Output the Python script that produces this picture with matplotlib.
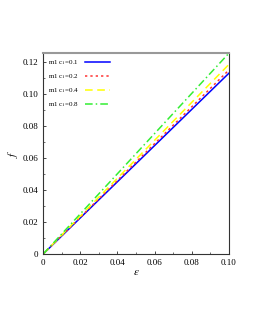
import matplotlib
matplotlib.use('Agg')
from matplotlib import pyplot as plt
from matplotlib.ticker import AutoMinorLocator
import numpy as np

plt.rcParams['font.family'] = ['Liberation Serif', 'DejaVu Serif']
plt.rcParams['mathtext.fontset'] = 'stix'

eps = [0.0, 0.10]
labels = ['m1 c$_1$=0.1', 'm1 c$_1$=0.2', 'm1 c$_1$=0.4', 'm1 c$_1$=0.8']
f_values = [[0.0, 0.1130], [0.0, 0.1150], [0.0, 0.1185], [0.0, 0.1255]]
colors = ['#0000ff', '#ff3333', '#ffff00', '#33ee33']
styles = ['-', (0, (1.5, 2)), (0, (5, 3)), (0, (5, 2, 1, 2))]
xticks = [0, 0.02, 0.04, 0.06, 0.08, 0.10]
xticklabels = ['0', '0.02', '0.04', '0.06', '0.08', '0.10']
yticks = [0, 0.02, 0.04, 0.06, 0.08, 0.10, 0.12]
yticklabels = ['0', '0.02', '0.04', '0.06', '0.08', '0.10', '0.12']

fig = plt.figure(figsize=(2.55, 3.30), dpi=100)
ax = fig.add_axes([0.169, 0.230, 0.729, 0.609])

for y, c, ls, lab in zip(f_values, colors, styles, labels):
    ax.plot(eps, y, color=c, linestyle=ls, linewidth=1.1, label=lab)

ax.set_xlim(0, 0.10)
ax.set_ylim(0, 0.1255)
ax.set_xticks(xticks)
ax.set_xticklabels(xticklabels)
ax.set_yticks(yticks)
ax.set_yticklabels(yticklabels)
ax.xaxis.set_minor_locator(AutoMinorLocator(2))
ax.yaxis.set_minor_locator(AutoMinorLocator(2))
ax.tick_params(direction='in', labelsize=6.5, length=2.5, width=0.5)
ax.tick_params(which='minor', direction='in', length=1.5, width=0.4)
ax.set_xlabel('$\\epsilon$', fontsize=8, labelpad=1)
ax.set_ylabel('$f$', fontsize=8, labelpad=2)

for side in ['left', 'bottom', 'right']:
    ax.spines[side].set_color('#333333')
    ax.spines[side].set_linewidth(0.8)
ax.spines['top'].set_color('#999999')
ax.spines['top'].set_linewidth(1.5)

leg = ax.legend(loc='upper left', fontsize=5, frameon=False,
                markerfirst=False, handlelength=3.6, labelspacing=0.75,
                borderaxespad=0.2, borderpad=0.5, handletextpad=0.8)

fig.savefig('out.png', dpi=100)
